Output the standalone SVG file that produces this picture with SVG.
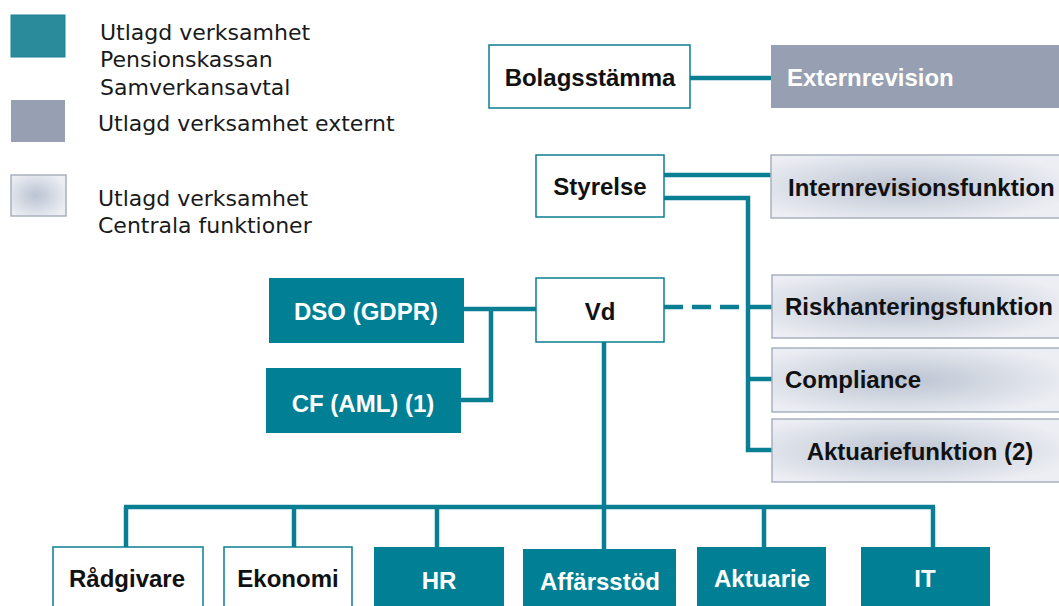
<svg xmlns="http://www.w3.org/2000/svg" width="1059" height="606" viewBox="0 0 1059 606">
<defs>
<radialGradient id="cf" cx="0.45" cy="0.5" r="0.6">
<stop offset="0" stop-color="#bcc4d2"/>
<stop offset="0.55" stop-color="#d6dbe4"/>
<stop offset="1" stop-color="#eceef3"/>
</radialGradient>
<style>
.lbl{font-family:"Liberation Sans",Arial,sans-serif;font-weight:bold;font-size:24px;fill:#111}
.wt{fill:#ffffff}
.leg{font-family:"DejaVu Sans","Noto Sans",sans-serif;font-size:22px;fill:#1a1a1a}
.own{fill:#ffffff;stroke:#0a7f93;stroke-width:1.5}
.teal{fill:#007f95}
.ext{fill:#97a0b2}
.cen{fill:url(#cf);stroke:#a9b1bf;stroke-width:1.5}
.ln{fill:none;stroke:#0a7f93;stroke-width:4.5}
</style>
</defs>
<rect width="1059" height="606" fill="#ffffff"/>
<g id="legend">
<rect x="11" y="15" width="54" height="42" fill="#2a8b9b" stroke="#1b8395" stroke-width="1"/>
<text class="leg" x="100" y="40">Utlagd verksamhet</text>
<text class="leg" x="100" y="67">Pensionskassan</text>
<text class="leg" x="100" y="95">Samverkansavtal</text>
<rect x="11" y="100" width="54" height="42" fill="#97a0b2"/>
<text class="leg" x="98" y="131">Utlagd verksamhet externt</text>
<rect x="11" y="175" width="55" height="41" class="cen"/>
<text class="leg" x="98" y="206">Utlagd verksamhet</text>
<text class="leg" x="98" y="233">Centrala funktioner</text>
</g>
<g id="connectors">
<line class="ln" x1="690" y1="78" x2="771" y2="78"/>
<line class="ln" x1="664" y1="175" x2="771" y2="175"/>
<polyline class="ln" points="664,198 748,198 748,450 772,450"/>
<line class="ln" x1="748" y1="307" x2="772" y2="307"/>
<line class="ln" x1="748" y1="379" x2="772" y2="379"/>
<line class="ln" x1="664" y1="307" x2="748" y2="307" stroke-dasharray="19 9"/>
<line class="ln" x1="464" y1="309" x2="536" y2="309"/>
<polyline class="ln" points="491,309 491,400 461,400"/>
<line class="ln" x1="604" y1="342" x2="604" y2="549"/>
<line class="ln" x1="124" y1="507" x2="935" y2="507"/>
<polyline class="ln" points="126,507 126,547"/>
<line class="ln" x1="294" y1="507" x2="294" y2="547"/>
<line class="ln" x1="437" y1="507" x2="437" y2="547"/>
<line class="ln" x1="764" y1="507" x2="764" y2="547"/>
<polyline class="ln" points="933,507 933,547"/>
</g>
<g id="bolagsstamma"><rect class="own" x="489" y="45" width="201" height="63"/><text class="lbl" x="590" y="86" text-anchor="middle">Bolagsstämma</text></g>
<g id="externrevision"><rect class="ext" x="771" y="45" width="290" height="63"/><text class="lbl wt" x="787" y="86">Externrevision</text></g>
<g id="styrelse"><rect class="own" x="536" y="155" width="128" height="62"/><text class="lbl" x="600" y="195" text-anchor="middle">Styrelse</text></g>
<g id="internrevision"><rect class="cen" x="771" y="155" width="292" height="63"/><text class="lbl" x="788" y="196">Internrevisionsfunktion</text></g>
<g id="dso"><rect class="teal" x="269" y="278" width="195" height="65"/><text class="lbl wt" x="366" y="320" text-anchor="middle">DSO (GDPR)</text></g>
<g id="cf"><rect class="teal" x="266" y="368" width="195" height="65"/><text class="lbl wt" x="363" y="412" text-anchor="middle">CF (AML) (1)</text></g>
<g id="vd"><rect class="own" x="536" y="278" width="128" height="64"/><text class="lbl" x="600" y="320" text-anchor="middle">Vd</text></g>
<g id="riskhantering"><rect class="cen" x="772" y="275" width="291" height="63"/><text class="lbl" x="785" y="315">Riskhanteringsfunktion</text></g>
<g id="compliance"><rect class="cen" x="772" y="348" width="291" height="64"/><text class="lbl" x="785" y="388">Compliance</text></g>
<g id="aktuariefunktion"><rect class="cen" x="772" y="419" width="291" height="63"/><text class="lbl" x="920" y="460" text-anchor="middle">Aktuariefunktion (2)</text></g>
<g id="radgivare"><rect class="own" x="53" y="547" width="150" height="64"/><text class="lbl" x="127" y="587" text-anchor="middle">Rådgivare</text></g>
<g id="ekonomi"><rect class="own" x="224" y="547" width="128" height="64"/><text class="lbl" x="288" y="587" text-anchor="middle">Ekonomi</text></g>
<g id="hr"><rect class="teal" x="374" y="547" width="130" height="64"/><text class="lbl wt" x="439" y="589" text-anchor="middle">HR</text></g>
<g id="affarsstod"><rect class="teal" x="523" y="549" width="153" height="62"/><text class="lbl wt" x="600" y="590" text-anchor="middle">Affärsstöd</text></g>
<g id="aktuarie"><rect class="teal" x="697" y="547" width="129" height="64"/><text class="lbl wt" x="762" y="587" text-anchor="middle">Aktuarie</text></g>
<g id="it"><rect class="teal" x="861" y="547" width="129" height="64"/><text class="lbl wt" x="925" y="587" text-anchor="middle">IT</text></g>
</svg>
